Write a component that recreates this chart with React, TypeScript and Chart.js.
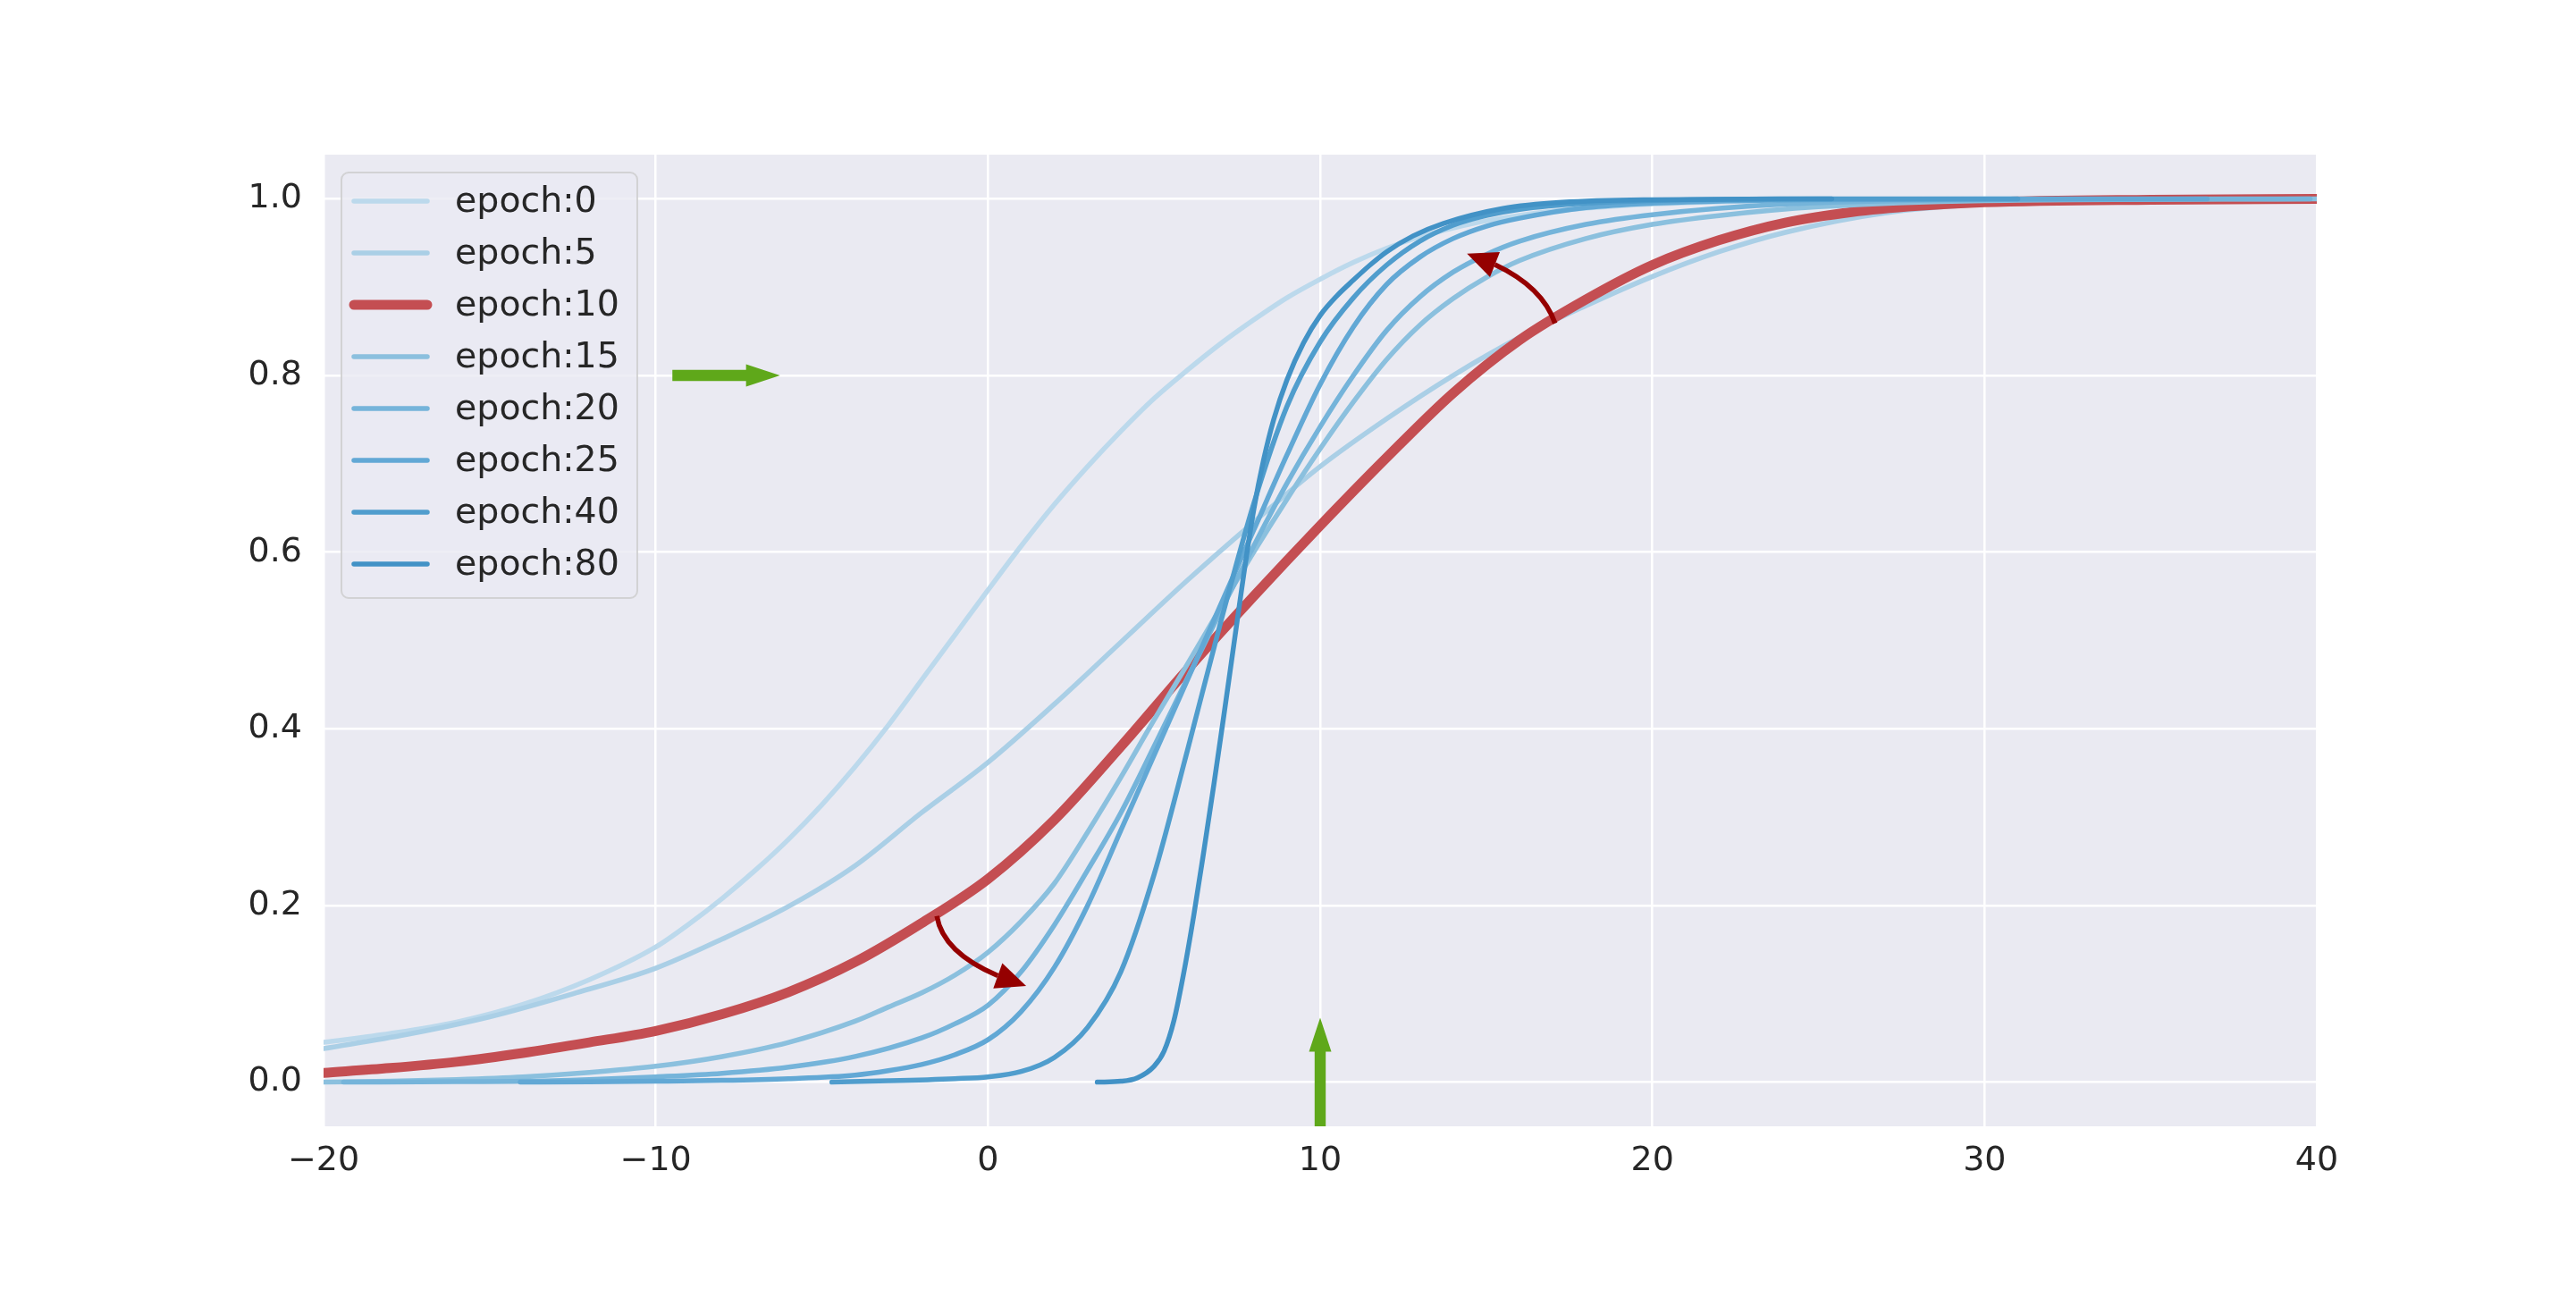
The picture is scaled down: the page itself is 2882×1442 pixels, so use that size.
import React, { useEffect, useRef } from "react";
import { Chart, registerables } from "chart.js";

Chart.register(...registerables);

// ---------- data ----------
const seriesLabels = ["epoch:0", "epoch:5", "epoch:10", "epoch:15", "epoch:20", "epoch:25", "epoch:40", "epoch:80"];
const seriesColors = ["#bcd9ec", "#aacfe6", "#c44e52", "#8bc0de", "#75b4da", "#62a8d5", "#509dcd", "#4292c6"];
const seriesWidths = [5.5, 5.5, 11, 5.5, 5.5, 5.5, 5.5, 5.5];

const epoch0X = [-20, -18, -16, -14, -12, -10, -9, -8, -7, -6, -5, -4, -3, -2, -1, 0, 1, 2, 3, 4, 5, 6, 7, 8, 9, 10, 11, 12, 13, 14, 15, 17, 20, 25, 30, 40];
const epoch0Y = [0.045, 0.055, 0.068, 0.088, 0.116, 0.153, 0.179, 0.208, 0.24, 0.275, 0.314, 0.357, 0.404, 0.455, 0.506, 0.557, 0.607, 0.654, 0.697, 0.737, 0.774, 0.806, 0.836, 0.863, 0.888, 0.909, 0.928, 0.944, 0.957, 0.967, 0.975, 0.986, 0.994, 0.999, 1.0, 1.0];

const epoch5X = [-20, -17.5, -15, -12.5, -10, -8, -6, -4, -2, 0, 2, 4, 6, 8, 10, 12, 14, 16, 18, 20, 22, 24, 27, 30, 35, 40];
const epoch5Y = [0.038, 0.054, 0.074, 0.1, 0.129, 0.162, 0.199, 0.245, 0.305, 0.362, 0.428, 0.498, 0.568, 0.634, 0.697, 0.751, 0.8, 0.843, 0.879, 0.912, 0.94, 0.962, 0.984, 0.994, 0.999, 1.0];

const epoch10X = [-20, -18, -16, -14, -12, -10, -8, -6, -4, -2, 0, 2, 4, 6, 8, 10, 12, 14, 16, 18, 20, 22, 24, 26, 28, 30, 35, 40];
const epoch10Y = [0.0105, 0.016, 0.023, 0.033, 0.045, 0.058, 0.077, 0.102, 0.136, 0.18, 0.23, 0.297, 0.38, 0.467, 0.55, 0.63, 0.707, 0.78, 0.84, 0.886, 0.925, 0.953, 0.973, 0.985, 0.992, 0.996, 0.999, 1.0];

const epoch15X = [-20, -18, -16, -14, -12, -10, -8, -6, -4, -3, -2, -1, 0, 1, 2, 3, 4, 5, 6, 7, 8, 9, 10, 11, 12, 13, 14, 15, 16, 18, 20, 22, 25, 30, 40];
const epoch15Y = [0.0, 0.001, 0.003, 0.006, 0.011, 0.018, 0.029, 0.045, 0.069, 0.085, 0.101, 0.121, 0.147, 0.182, 0.225, 0.283, 0.345, 0.41, 0.473, 0.537, 0.6, 0.66, 0.717, 0.77, 0.818, 0.857, 0.887, 0.911, 0.93, 0.955, 0.971, 0.981, 0.991, 0.998, 1.0];

const epoch20X = [-19.4, -16, -14, -12, -10, -8, -6, -4, -2, -1, 0, 1, 2, 3, 4, 5, 6, 7, 8, 9, 10, 11, 12, 13, 14, 15, 16, 18, 20, 24, 30, 39.8];
const epoch20Y = [0.0, 0.0005, 0.001, 0.003, 0.006, 0.01, 0.017, 0.029, 0.05, 0.066, 0.087, 0.125, 0.178, 0.24, 0.305, 0.38, 0.457, 0.533, 0.607, 0.678, 0.742, 0.8, 0.851, 0.889, 0.917, 0.937, 0.952, 0.971, 0.982, 0.994, 0.999, 1.0];

const epoch25X = [-14.08, -12, -10, -8, -6, -4, -3, -2, -1, 0, 1, 2, 3, 4, 5, 6, 7, 8, 9, 10, 11, 12, 13, 14, 15, 16, 18, 20, 25, 36.7];
const epoch25Y = [0.0, 0.0003, 0.001, 0.002, 0.004, 0.008, 0.013, 0.02, 0.031, 0.048, 0.08, 0.13, 0.2, 0.285, 0.37, 0.455, 0.54, 0.625, 0.71, 0.79, 0.855, 0.903, 0.934, 0.955, 0.969, 0.978, 0.99, 0.995, 0.999, 1.0];

const epoch40X = [-4.7, -3, -1, 0, 1, 2, 3, 4, 5, 6, 7, 8, 9, 10, 11, 12, 13, 14, 15, 16, 18, 20, 25, 31];
const epoch40Y = [0.0, 0.0015, 0.004, 0.006, 0.012, 0.028, 0.062, 0.125, 0.235, 0.375, 0.52, 0.655, 0.765, 0.838, 0.888, 0.925, 0.952, 0.97, 0.981, 0.988, 0.995, 0.998, 1.0, 1.0];

const epoch80X = [3.29, 4, 4.5, 5, 5.3, 5.6, 5.9, 6.2, 6.5, 6.8, 7.1, 7.4, 7.7, 8, 8.3, 8.6, 9, 9.5, 10, 10.5, 11, 11.5, 12, 12.8, 13.7, 15.5, 17.3, 20, 25.4];
const epoch80Y = [0.0, 0.001, 0.005, 0.018, 0.035, 0.07, 0.125, 0.19, 0.262, 0.337, 0.415, 0.495, 0.575, 0.648, 0.705, 0.75, 0.795, 0.837, 0.868, 0.89, 0.908, 0.925, 0.94, 0.958, 0.972, 0.989, 0.996, 0.999, 1.0];

const seriesX = [epoch0X, epoch5X, epoch10X, epoch15X, epoch20X, epoch25X, epoch40X, epoch80X];
const seriesY = [epoch0Y, epoch5Y, epoch10Y, epoch15Y, epoch20Y, epoch25Y, epoch40Y, epoch80Y];

const xTicks = [-20, -10, 0, 10, 20, 30, 40];
const yTicks = [0, 0.2, 0.4, 0.6, 0.8, 1.0];

// annotation anchors (data coordinates)
const greenArrows = [
  { from: [-9.5, 0.8], to: [-6.26, 0.8] },
  { from: [10, -0.05], to: [10, 0.073] },
];
const curvedArrows = [
  { from: [-1.54, 0.188], ctrl: [-1.31, 0.137], to: [1.15, 0.109] },
  { from: [17.07, 0.859], ctrl: [16.6, 0.911], to: [14.42, 0.938] },
];

// ---------- styles ----------
const FONT = '"DejaVu Sans", "Liberation Sans", sans-serif';
const TEXT = "#262626";
const BG = "#eaeaf2";
const GREEN = "#5fa81a";
const DARKRED = "#950000";

function bgPlugin() {
  return {
    id: "bgPlugin",
    beforeDraw(chart: any) {
      const { ctx, chartArea: a } = chart;
      ctx.save();
      ctx.fillStyle = BG;
      ctx.fillRect(a.left, a.top, a.right - a.left, a.bottom - a.top);
      ctx.restore();
    },
  };
}

function quadPoint(p0: number[], c: number[], p2: number[], t: number) {
  const u = 1 - t;
  return [u * u * p0[0] + 2 * u * t * c[0] + t * t * p2[0], u * u * p0[1] + 2 * u * t * c[1] + t * t * p2[1]];
}

function overlayPlugin() {
  return {
    id: "overlayPlugin",
    afterDatasetsDraw(chart: any) {
      const { ctx, chartArea: a } = chart;
      const xs = chart.scales.x;
      const ys = chart.scales.y;
      const px = (p: number[]) => [xs.getPixelForValue(p[0]), ys.getPixelForValue(p[1])];
      ctx.save();

      // green block arrows
      ctx.fillStyle = GREEN;
      for (const g of greenArrows) {
        const [x0, y0] = px(g.from);
        const [x1, y1] = px(g.to);
        const len = Math.hypot(x1 - x0, y1 - y0);
        const ux = (x1 - x0) / len;
        const uy = (y1 - y0) / len;
        const nx = -uy;
        const ny = ux;
        const sw = 6.2;
        const hw = 12.5;
        const hl = 38;
        const bx = x1 - ux * hl;
        const by = y1 - uy * hl;
        ctx.beginPath();
        ctx.moveTo(x0 + nx * sw, y0 + ny * sw);
        ctx.lineTo(bx + nx * sw, by + ny * sw);
        ctx.lineTo(bx + nx * hw, by + ny * hw);
        ctx.lineTo(x1, y1);
        ctx.lineTo(bx - nx * hw, by - ny * hw);
        ctx.lineTo(bx - nx * sw, by - ny * sw);
        ctx.lineTo(x0 - nx * sw, y0 - ny * sw);
        ctx.closePath();
        ctx.fill();
      }

      // dark red curved arrows
      for (const c of curvedArrows) {
        const p0 = px(c.from);
        const cc = px(c.ctrl);
        const p2 = px(c.to);
        const hl = 33;
        const hw = 15;
        let t = 1;
        for (let k = 0; k <= 200; k++) {
          const tt = 1 - k / 200;
          const q = quadPoint(p0, cc, p2, tt);
          if (Math.hypot(q[0] - p2[0], q[1] - p2[1]) >= hl) {
            t = tt;
            break;
          }
        }
        const c1 = [p0[0] + (cc[0] - p0[0]) * t, p0[1] + (cc[1] - p0[1]) * t];
        const e = quadPoint(p0, cc, p2, t);
        ctx.strokeStyle = DARKRED;
        ctx.lineWidth = 5.5;
        ctx.lineCap = "butt";
        ctx.beginPath();
        ctx.moveTo(p0[0], p0[1]);
        ctx.quadraticCurveTo(c1[0], c1[1], e[0], e[1]);
        ctx.stroke();
        const dx = p2[0] - e[0];
        const dy = p2[1] - e[1];
        const d = Math.hypot(dx, dy);
        const nx = -dy / d;
        const ny = dx / d;
        ctx.fillStyle = DARKRED;
        ctx.beginPath();
        ctx.moveTo(p2[0], p2[1]);
        ctx.lineTo(e[0] + nx * hw, e[1] + ny * hw);
        ctx.lineTo(e[0] - nx * hw, e[1] - ny * hw);
        ctx.closePath();
        ctx.fill();
      }

      // legend
      const lx = a.left + 20;
      const ly = a.top + 20;
      const rowH = 58;
      const n = chart.data.datasets.length;
      const boxW = 331;
      const boxH = 32 + (n - 1) * rowH + 38;
      ctx.beginPath();
      ctx.roundRect(lx, ly, boxW, boxH, 8);
      ctx.fillStyle = "rgba(234,234,242,0.8)";
      ctx.fill();
      ctx.strokeStyle = "rgba(204,204,204,0.8)";
      ctx.lineWidth = 2;
      ctx.stroke();
      ctx.font = `39.5px ${FONT}`;
      ctx.textBaseline = "middle";
      ctx.textAlign = "left";
      chart.data.datasets.forEach((ds: any, i: number) => {
        const cy = ly + 32 + i * rowH;
        ctx.strokeStyle = ds.borderColor;
        ctx.lineWidth = ds.borderWidth;
        ctx.lineCap = "round";
        ctx.beginPath();
        ctx.moveTo(lx + 14, cy);
        ctx.lineTo(lx + 96, cy);
        ctx.stroke();
        ctx.fillStyle = TEXT;
        ctx.fillText(ds.label, lx + 127, cy + 2);
      });
      ctx.restore();
    },
  };
}

export default function App() {
  const ref = useRef<HTMLCanvasElement | null>(null);
  useEffect(() => {
    if (!ref.current) return;
    const N = seriesLabels.length;
    const datasets = seriesLabels.map((label, i) => ({
      label,
      data: seriesX[i].map((x, j) => ({ x, y: seriesY[i][j] })),
      borderColor: seriesColors[i],
      backgroundColor: seriesColors[i],
      borderWidth: seriesWidths[i],
      pointRadius: 0,
      fill: false,
      cubicInterpolationMode: "monotone" as const,
      borderCapStyle: "round" as const,
      borderJoinStyle: "round" as const,
      clip: 0,
      order: N - i,
    }));
    const chart = new Chart(ref.current, {
      type: "line",
      data: { datasets },
      options: {
        responsive: false,
        animation: false,
        devicePixelRatio: 1,
        layout: { padding: { left: 0, top: 173, right: 290, bottom: 0 } },
        plugins: { legend: { display: false }, tooltip: { enabled: false } },
        scales: {
          x: {
            type: "linear",
            min: -20,
            max: 40,
            afterFit: (s: any) => {
              s.height = 182;
            },
            afterBuildTicks: (s: any) => {
              s.ticks = xTicks.map((v) => ({ value: v }));
            },
            grid: { color: "#ffffff", lineWidth: 2.5, drawTicks: false },
            border: { display: false },
            ticks: {
              padding: 16,
              color: TEXT,
              font: { family: FONT, size: 38 },
              callback: (v: any) => String(v).replace("-", "\u2212"),
            },
          },
          y: {
            type: "linear",
            min: -0.05,
            max: 1.05,
            afterFit: (s: any) => {
              s.width = 362;
            },
            afterBuildTicks: (s: any) => {
              s.ticks = yTicks.map((v) => ({ value: v }));
            },
            grid: { color: "#ffffff", lineWidth: 2.5, drawTicks: false },
            border: { display: false },
            ticks: {
              padding: 24,
              color: TEXT,
              font: { family: FONT, size: 38 },
              callback: (v: any) => Number(v).toFixed(1),
            },
          },
        },
      },
      plugins: [bgPlugin(), overlayPlugin()],
    });
    return () => chart.destroy();
  }, []);
  return (
    <div style={{ position: "absolute", left: 0, top: 0, width: 2882, height: 1442, background: "#ffffff" }}>
      <canvas ref={ref} width={2882} height={1442} style={{ width: 2882, height: 1442, display: "block" }} />
    </div>
  );
}
